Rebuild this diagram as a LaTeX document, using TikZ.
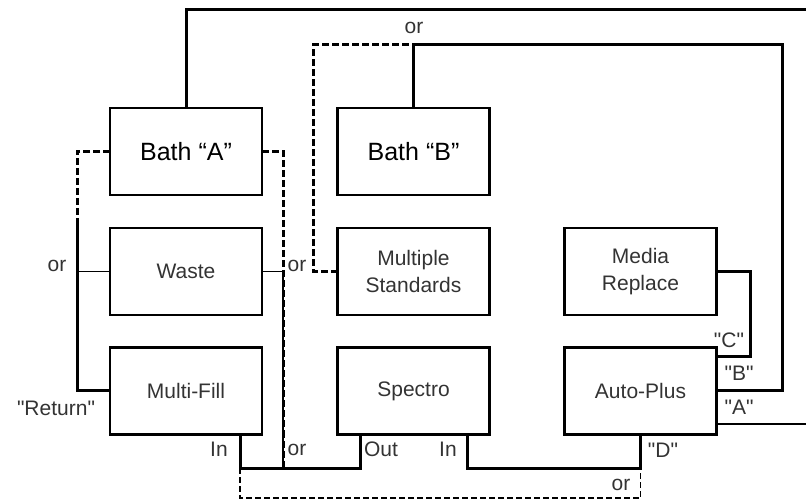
\documentclass[tikz,border=0pt]{standalone}
\usepackage{fontspec}
\setmainfont{Liberation Sans}
\usetikzlibrary{positioning}

\begin{document}
\begin{tikzpicture}[x=1pt,y=-1pt,
  unit/.style={draw,line width=2.6pt,minimum width=152pt,minimum height=87pt,
    inner sep=0pt,outer sep=0pt,align=center,font=\fontsize{21}{27}\selectfont,text=black!80},
  bath/.style={unit,font=\fontsize{25}{30}\selectfont,text=black},
  pipe/.style={line width=3pt},
  thinpipe/.style={line width=1.4pt},
  alt/.style={line width=3pt,dash pattern=on 7pt off 3pt},
  thinalt/.style={line width=1.4pt,dash pattern=on 6pt off 3pt},
  lbl/.style={inner sep=0pt,font=\fontsize{21}{25}\selectfont,text=black!80}]
  \useasboundingbox (0,0) rectangle (806,502);
  % ---------------- units
  \node[bath] (bathA) at (186,151.5) {Bath “A”};
  \node[bath] (bathB) at (413.5,151.5) {Bath “B”};
  \node[unit] (waste) at (186,271.5) {Waste};
  \node[unit] (multifill) at (186,391) {Multi-Fill};
  \node[unit] (multistd) at (413.5,271.5) {Multiple\\Standards};
  \node[unit] (spectro) at (413.5,391) {Spectro};
  \node[unit] (media) at (640.5,271.5) {Media\\Replace};
  \node[unit] (autoplus) at (640.5,391) {Auto-Plus};
  % ---------------- bends
  \coordinate (atop) at (806,10);
  \coordinate (btop) at (782,45);
  \coordinate (stdtop) at (313,45);
  \coordinate (cside) at (750,271.5);
  \coordinate (aend) at (806,424);
  \coordinate (lsplit) at (77,222);
  \coordinate (rjoin) at (283,468);
  \coordinate (ljoin) at (240,468);
  \coordinate (djoin) at (640.5,468);
  \coordinate (lowline) at (240,498);
  % ---------------- returns to the baths
  \draw[pipe] (bathA.north) |- (atop);
  \draw[thinpipe] ([yshift=10.5pt]autoplus.south east) coordinate (aport) -- (aport -| aend);
  \draw[pipe] (bathB.north) |- (btop) |- (autoplus.east);
  \draw[alt] (multistd.west) -| (stdtop) -- (stdtop -| bathB.north);
  \draw[pipe] (media.east) -- (cside) |- ([yshift=-9.5pt]autoplus.north east);
  % ---------------- left side
  \draw[alt] (bathA.west) -| (lsplit);
  \draw[pipe] (lsplit) |- (multifill.west);
  \draw[thinpipe] (waste.west) -- (waste.west -| lsplit);
  \draw[alt] (bathA.east) -| (rjoin);
  \draw[thinpipe] (waste.east) -| (rjoin);
  % ---------------- bottom
  \draw[pipe] (multifill.south -| ljoin) -- (ljoin) -| ([xshift=22.5pt]spectro.south west);
  \draw[pipe] ([xshift=-22.5pt]spectro.south east) |- (djoin) -- (autoplus.south);
  \draw[thinalt] (ljoin) -- (lowline) -| (djoin);
  % ---------------- labels
  \node[lbl] (orTop) at (414,28) {or};
  \node[lbl] (orLeft) at (57,266) {or};
  \node[lbl] (orWaste) at (297,266) {or};
  \node[lbl] (orBottom) at (297,450) {or};
  \node[lbl] (orLow) at (621,485) {or};
  \node[lbl] (ret) at (56,408) {\textquotedbl Return\textquotedbl};
  \node[lbl] (mfIn) at (219,449) {In};
  \node[lbl] (spOut) at (381,449) {Out};
  \node[lbl] (spIn) at (448,449) {In};
  \node[lbl] (portD) at (663,450) {\textquotedbl D\textquotedbl};
  \node[lbl] (portC) at (729,340) {\textquotedbl C\textquotedbl};
  \node[lbl] (portB) at (739,373) {\textquotedbl B\textquotedbl};
  \node[lbl] (portA) at (739,407) {\textquotedbl A\textquotedbl};
\end{tikzpicture}
\end{document}
